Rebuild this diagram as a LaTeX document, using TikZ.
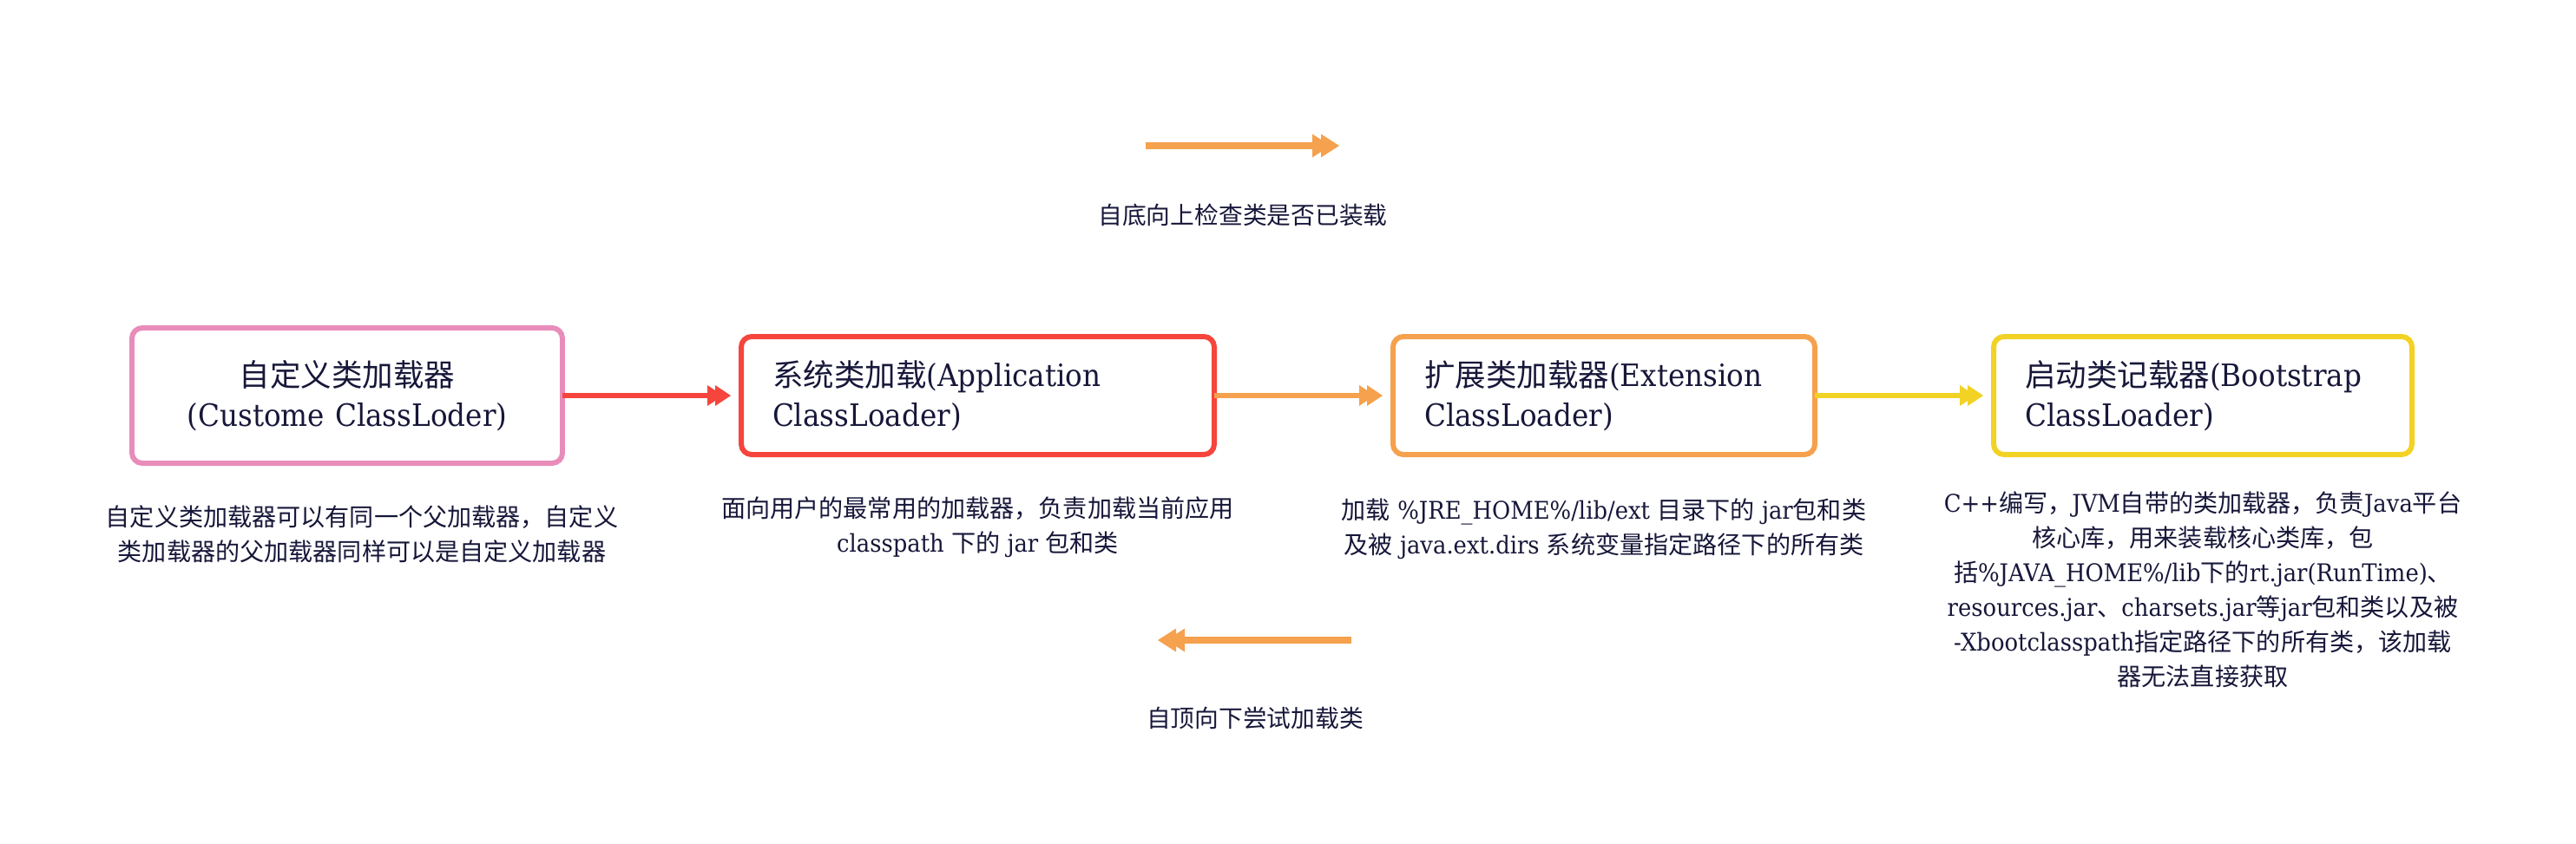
\documentclass[tikz,border=0pt]{standalone}
\usepackage{fontspec}
\setmainfont{DejaVu Serif}[FakeStretch=0.92]
\newfontfamily\zhfont{Noto Sans CJK SC}
\usepackage{tikz}
\usetikzlibrary{positioning, arrows.meta}
\definecolor{ink}{HTML}{17173A}
\definecolor{ldrPink}{HTML}{E88DBA}
\definecolor{ldrRed}{HTML}{F5453C}
\definecolor{ldrOrange}{HTML}{F5A14D}
\definecolor{ldrYellow}{HTML}{F2D224}
\newcommand{\zh}[1]{{\zhfont #1}}
\newcommand{\boxfont}{\fontsize{10.1pt}{13pt}\selectfont}
\newcommand{\notefont}{\fontsize{8pt}{11.4pt}\selectfont}

\begin{document}
\begin{tikzpicture}[ldr/.style={draw, rounded corners=0.12cm, line width=1.7pt, outer sep=0pt, minimum height=1.36cm, inner xsep=0.36cm, inner ysep=0pt, align=left, font=\boxfont, text=ink},note/.style={align=center, inner sep=0pt, font=\notefont, text=ink},lbl/.style={inner sep=0pt, font=\fontsize{7.9pt}{10pt}\selectfont\zhfont, text=ink},flow/.style={line width=1.7pt, shorten >=0.12cm, -{Triangle[length=0.18cm, width=0.24cm, line width=0pt, sep=-0.09cm]Triangle[length=0.18cm, width=0.24cm, line width=0pt]}},hint/.style={line width=2.1pt, color=ldrOrange, -{Triangle[length=0.21cm, width=0.27cm, line width=0pt, sep=-0.11cm]Triangle[length=0.21cm, width=0.27cm, line width=0pt]}}]
\useasboundingbox (0,0) rectangle (29.68,-9.72);
\node[ldr, draw=ldrPink, text width=4.24cm, minimum height=1.56cm, align=center] (cust) at (4.00,-4.56) {\zh{自定义类加载器}\\(Custome ClassLoder)};
\node[ldr, draw=ldrRed, text width=4.73cm, right=2.06cm of cust] (app) {\zh{系统类加载}(Application\\ClassLoader)};
\node[ldr, draw=ldrOrange, text width=4.14cm, right=2.06cm of app] (ext) {\zh{扩展类加载器}(Extension\\ClassLoader)};
\node[ldr, draw=ldrYellow, text width=4.10cm, right=2.06cm of ext] (boot) {\zh{启动类记载器}(Bootstrap\\ClassLoader)};
\draw[flow, ldrRed] (cust.east) -- (app.west);
\draw[flow, ldrOrange] (app.east) -- (ext.west);
\draw[flow, ldrYellow] (ext.east) -- (boot.west);
\node[note, below=0.48cm of cust, xshift=0.17cm] (custNote) {\zh{自定义类加载器可以有同一个父加载器，自定义}\\\zh{类加载器的父加载器同样可以是自定义加载器}};
\node[note, below=0.48cm of app] (appNote) {\zh{面向用户的最常用的加载器，负责加载当前应用}\\classpath \zh{下的} jar \zh{包和类}};
\node[note, below=0.50cm of ext] (extNote) {\zh{加载} \%JRE\_HOME\%/lib/ext \zh{目录下的} jar\zh{包和类}\\\zh{及被} java.ext.dirs \zh{系统变量指定路径下的所有类}};
\node[note, below=0.42cm of boot] (bootNote) {C++\zh{编写，}JVM\zh{自带的类加载器，负责}Java\zh{平台}\\\zh{核心库，用来装载核心类库，包}\\\zh{括}\%JAVA\_HOME\%/lib\zh{下的}rt.jar(RunTime)\zh{、}\\resources.jar\zh{、}charsets.jar\zh{等}jar\zh{包和类以及被}\\-Xbootclasspath\zh{指定路径下的所有类，该加载}\\\zh{器无法直接获取}};
\coordinate (upS) at (13.20,-1.68);
\coordinate (upE) at (15.43,-1.68);
\draw[hint] (upS) -- (upE);
\node[lbl] (upTxt) at (14.32,-2.48) {自底向上检查类是否已装载};
\coordinate (dnS) at (15.57,-7.38);
\coordinate (dnE) at (13.34,-7.38);
\draw[hint] (dnS) -- (dnE);
\node[lbl] (dnTxt) at (14.46,-8.28) {自顶向下尝试加载类};
\end{tikzpicture}
\end{document}
